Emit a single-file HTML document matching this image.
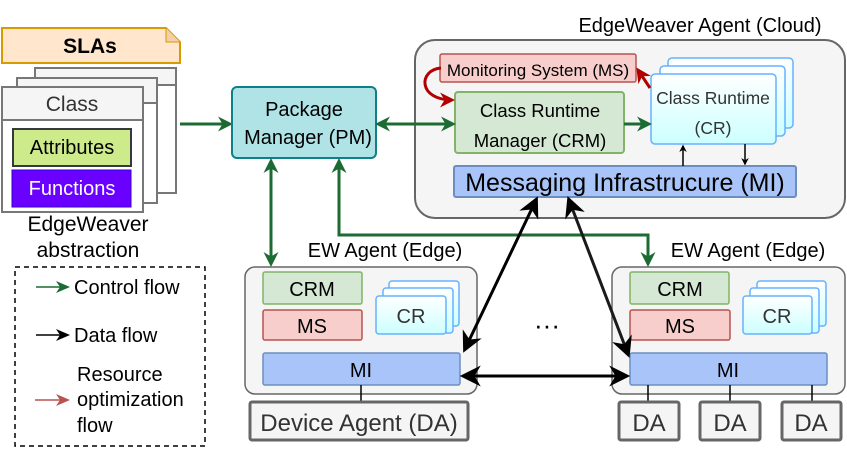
<!DOCTYPE html>
<html><head><meta charset="utf-8"><style>
html,body{margin:0;padding:0;background:#fff;}
svg{display:block;font-family:"Liberation Sans",Arial,sans-serif;}
</style></head><body>
<svg width="847" height="456" viewBox="0 0 847 456" xmlns="http://www.w3.org/2000/svg">
<defs>
<marker id="g" viewBox="0 0 10 10" refX="8" refY="5" markerWidth="5" markerHeight="5" orient="auto-start-reverse"><path d="M0,0 L10,5 L0,10 L3,5 z" fill="#1b6b33"/></marker>
<marker id="k" viewBox="0 0 10 10" refX="8" refY="5" markerWidth="5" markerHeight="5" orient="auto-start-reverse"><path d="M0,0 L10,5 L0,10 L3,5 z" fill="#000"/></marker>
<marker id="ks" viewBox="0 0 10 10" refX="8" refY="5" markerWidth="7" markerHeight="7" orient="auto-start-reverse"><path d="M0,0 L10,5 L0,10 L3,5 z" fill="#000"/></marker>
<marker id="r" viewBox="0 0 10 10" refX="8" refY="5" markerWidth="5" markerHeight="5" orient="auto-start-reverse"><path d="M0,0 L10,5 L0,10 L3,5 z" fill="#b20000"/></marker>
<linearGradient id="cr" x1="0" y1="0" x2="0" y2="1"><stop offset="0" stop-color="#fff"/><stop offset="1" stop-color="#ccffff"/></linearGradient>
</defs>

<!-- SLAs -->
<path d="M2,28 H166 L180,42 V63 H2 Z" fill="#ffe6cc" stroke="#d79b00" stroke-width="2"/>
<path d="M166,28 V42 H180" fill="#f2cfa8" stroke="#d79b00" stroke-width="1"/>
<text x="90" y="53" font-size="21" font-weight="bold" text-anchor="middle">SLAs</text>

<!-- class stack -->
<rect x="35" y="68" width="141" height="125" fill="#fff" stroke="#777" stroke-width="2"/>
<rect x="35" y="68" width="141" height="17" fill="#f5f5f5" stroke="#777" stroke-width="2"/>
<rect x="17" y="78" width="140" height="125" fill="#fff" stroke="#777" stroke-width="2"/>
<rect x="17" y="78" width="140" height="25" fill="#f5f5f5" stroke="#777" stroke-width="2"/>
<rect x="2" y="87" width="141" height="125" fill="#fff" stroke="#777" stroke-width="2"/>
<rect x="2" y="87" width="141" height="33" fill="#f5f5f5" stroke="#777" stroke-width="2"/>
<text x="72" y="111" font-size="21" fill="#333" text-anchor="middle">Class</text>
<rect x="13" y="129" width="118" height="37" fill="#cdeb8b" stroke="#36393d" stroke-width="2"/>
<text x="72" y="154" font-size="20" text-anchor="middle">Attributes</text>
<rect x="12" y="170" width="119" height="37" fill="#6a00ff" stroke="#3700cc" stroke-width="1"/>
<text x="72" y="195" font-size="20" fill="#fff" text-anchor="middle">Functions</text>
<text x="88" y="231" font-size="21" text-anchor="middle">EdgeWeaver</text>
<text x="88" y="257" font-size="21" text-anchor="middle">abstraction</text>

<!-- PM -->
<line x1="180" y1="124" x2="230" y2="124" stroke="#1b6b33" stroke-width="3" marker-end="url(#g)"/>
<rect x="232" y="87" width="144" height="71" rx="5" fill="#b0e3e6" stroke="#0e8088" stroke-width="2"/>
<text x="304" y="116" font-size="20" text-anchor="middle">Package</text>
<text x="308" y="144" font-size="20" text-anchor="middle">Manager (PM)</text>

<!-- Cloud -->
<text x="700" y="32" font-size="20" text-anchor="middle">EdgeWeaver Agent (Cloud)</text>
<rect x="415" y="40" width="430" height="178" rx="20" fill="#f5f5f5" stroke="#666" stroke-width="2"/>
<rect x="440" y="54" width="196" height="28" rx="2" fill="#f8cecc" stroke="#b85450" stroke-width="1.5"/>
<text x="538" y="76" font-size="17" text-anchor="middle">Monitoring System (MS)</text>
<rect x="455" y="92" width="169" height="61" rx="3" fill="#d5e8d4" stroke="#82b366" stroke-width="2"/>
<text x="540" y="117" font-size="18.5" text-anchor="middle">Class Runtime</text>
<text x="540" y="147" font-size="18.5" text-anchor="middle">Manager (CRM)</text>
<rect x="668" y="58" width="125" height="70" rx="4" fill="url(#cr)" stroke="#66b2ff" stroke-width="1.5"/>
<rect x="660" y="66" width="125" height="70" rx="4" fill="url(#cr)" stroke="#66b2ff" stroke-width="1.5"/>
<rect x="651" y="74" width="125" height="70" rx="4" fill="url(#cr)" stroke="#66b2ff" stroke-width="1.5"/>
<text x="713" y="104" font-size="17.5" fill="#333" text-anchor="middle">Class Runtime</text>
<text x="713" y="134" font-size="17.5" fill="#333" text-anchor="middle">(CR)</text>
<rect x="454" y="166" width="342" height="31" rx="2" fill="#a9c4f8" stroke="#6c8ebf" stroke-width="2"/>
<text x="625" y="191" font-size="25" text-anchor="middle">Messaging Infrastrucure (MI)</text>
<line x1="683" y1="166" x2="683" y2="146" stroke="#000" stroke-width="1.5" marker-end="url(#k)"/>
<line x1="745" y1="144" x2="745" y2="164" stroke="#000" stroke-width="1.5" marker-end="url(#k)"/>
<line x1="624" y1="124" x2="649" y2="124" stroke="#1b6b33" stroke-width="3" marker-end="url(#g)"/>
<line x1="378" y1="124" x2="453" y2="124" stroke="#1b6b33" stroke-width="3" marker-start="url(#g)" marker-end="url(#g)"/>
<line x1="650" y1="88" x2="638" y2="70" stroke="#b20000" stroke-width="3" marker-end="url(#r)"/>
<path d="M441,68 C418,70 418,100 452,100" fill="none" stroke="#b20000" stroke-width="3" marker-end="url(#r)"/>

<!-- Left edge -->
<text x="385" y="257" font-size="20" text-anchor="middle">EW Agent (Edge)</text>
<rect x="245" y="267" width="232" height="127" rx="10" fill="#f5f5f5" stroke="#666" stroke-width="1.5"/>
<rect x="263" y="272" width="99" height="32" rx="2" fill="#d5e8d4" stroke="#82b366" stroke-width="1.5"/>
<text x="312" y="296" font-size="20" text-anchor="middle">CRM</text>
<rect x="263" y="310" width="99" height="30" rx="2" fill="#f8cecc" stroke="#b85450" stroke-width="1.5"/>
<text x="312" y="333" font-size="20" text-anchor="middle">MS</text>
<rect x="389" y="281" width="70" height="45" rx="3" fill="url(#cr)" stroke="#66b2ff" stroke-width="1.5"/>
<rect x="383" y="288" width="70" height="45" rx="3" fill="url(#cr)" stroke="#66b2ff" stroke-width="1.5"/>
<rect x="376" y="296" width="70" height="38" rx="3" fill="url(#cr)" stroke="#66b2ff" stroke-width="1.5"/>
<text x="411" y="323" font-size="20" fill="#333" text-anchor="middle">CR</text>
<rect x="263" y="353" width="197" height="32" rx="2" fill="#a9c4f8" stroke="#6c8ebf" stroke-width="1.5"/>
<text x="361" y="377" font-size="20" text-anchor="middle">MI</text>
<line x1="361" y1="385" x2="361" y2="401" stroke="#000" stroke-width="1.5"/>
<rect x="250" y="402" width="218" height="38" rx="2" fill="#f5f5f5" stroke="#666" stroke-width="3"/>
<text x="359" y="431" font-size="24" fill="#333" text-anchor="middle">Device Agent (DA)</text>

<!-- Right edge -->
<text x="748" y="257" font-size="20" text-anchor="middle">EW Agent (Edge)</text>
<rect x="612" y="267" width="233" height="127" rx="10" fill="#f5f5f5" stroke="#666" stroke-width="1.5"/>
<rect x="630" y="272" width="99" height="32" rx="2" fill="#d5e8d4" stroke="#82b366" stroke-width="1.5"/>
<text x="680" y="296" font-size="20" text-anchor="middle">CRM</text>
<rect x="630" y="310" width="100" height="30" rx="2" fill="#f8cecc" stroke="#b85450" stroke-width="1.5"/>
<text x="680" y="333" font-size="20" text-anchor="middle">MS</text>
<rect x="757" y="281" width="69" height="45" rx="3" fill="url(#cr)" stroke="#66b2ff" stroke-width="1.5"/>
<rect x="750" y="288" width="69" height="45" rx="3" fill="url(#cr)" stroke="#66b2ff" stroke-width="1.5"/>
<rect x="743" y="296" width="69" height="38" rx="3" fill="url(#cr)" stroke="#66b2ff" stroke-width="1.5"/>
<text x="777" y="323" font-size="20" fill="#333" text-anchor="middle">CR</text>
<rect x="630" y="353" width="197" height="32" rx="2" fill="#a9c4f8" stroke="#6c8ebf" stroke-width="1.5"/>
<text x="728" y="377" font-size="20" text-anchor="middle">MI</text>
<line x1="648" y1="385" x2="648" y2="401" stroke="#000" stroke-width="1.5"/>
<line x1="730" y1="385" x2="730" y2="401" stroke="#000" stroke-width="1.5"/>
<line x1="812" y1="385" x2="812" y2="401" stroke="#000" stroke-width="1.5"/>
<rect x="619" y="402" width="60" height="38" rx="2" fill="#f5f5f5" stroke="#666" stroke-width="3"/>
<text x="649" y="431" font-size="24" fill="#333" text-anchor="middle">DA</text>
<rect x="700" y="402" width="60" height="38" rx="2" fill="#f5f5f5" stroke="#666" stroke-width="3"/>
<text x="730" y="431" font-size="24" fill="#333" text-anchor="middle">DA</text>
<rect x="782" y="402" width="59" height="38" rx="2" fill="#f5f5f5" stroke="#666" stroke-width="3"/>
<text x="811" y="431" font-size="24" fill="#333" text-anchor="middle">DA</text>

<text x="547" y="334" font-size="26" text-anchor="middle">···</text>

<!-- green PM links -->
<line x1="271" y1="161" x2="271" y2="264" stroke="#1b6b33" stroke-width="3" marker-start="url(#g)" marker-end="url(#g)"/>
<path d="M339,161 V235 H648 V264" fill="none" stroke="#1b6b33" stroke-width="3" marker-start="url(#g)" marker-end="url(#g)"/>

<!-- black data links -->
<line x1="536" y1="200" x2="465" y2="349" stroke="#000" stroke-width="3" marker-start="url(#ks)" marker-end="url(#ks)"/>
<line x1="569" y1="200" x2="628" y2="354" stroke="#1a1a1a" stroke-width="3" marker-start="url(#ks)" marker-end="url(#ks)"/>
<line x1="464" y1="376" x2="626" y2="376" stroke="#000" stroke-width="3" marker-start="url(#ks)" marker-end="url(#ks)"/>

<!-- legend -->
<rect x="15" y="267" width="190" height="179" fill="none" stroke="#000" stroke-width="1.5" stroke-dasharray="5,4"/>
<line x1="36" y1="287" x2="62" y2="287" stroke="#1b6b33" stroke-width="1.5"/>
<path d="M56,281 L70,287 L56,293 L60,287 Z" fill="#1b6b33"/>
<text x="74" y="294" font-size="20">Control flow</text>
<line x1="36" y1="335" x2="62" y2="335" stroke="#000" stroke-width="1.5"/>
<path d="M56,329 L70,335 L56,341 L60,335 Z" fill="#000"/>
<text x="74" y="342" font-size="20">Data flow</text>
<line x1="35" y1="400" x2="62" y2="400" stroke="#b85450" stroke-width="1.5"/>
<path d="M56,394 L70,400 L56,406 L60,400 Z" fill="#b85450"/>
<text x="77" y="381" font-size="20">Resource</text>
<text x="77" y="406" font-size="20">optimization</text>
<text x="77" y="432" font-size="20">flow</text>
</svg>
</body></html>
